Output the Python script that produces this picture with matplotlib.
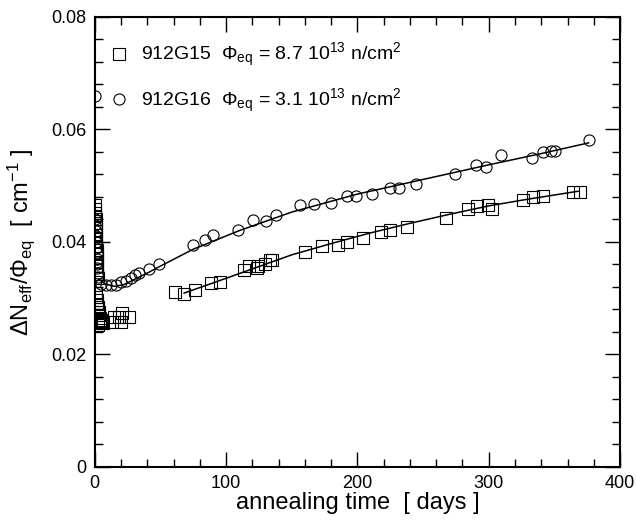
import numpy as np
import matplotlib
matplotlib.use('Agg')
import matplotlib.pyplot as plt
from matplotlib.ticker import MultipleLocator

plt.rcParams['font.family'] = ['Liberation Sans', 'DejaVu Sans']
plt.rcParams['mathtext.fontset'] = 'custom'
plt.rcParams['mathtext.rm'] = 'Liberation Sans'
plt.rcParams['mathtext.it'] = 'Liberation Sans:italic'

# === 912G15 (squares) ===
g15_t = [0.2, 0.3, 0.4, 0.5, 0.6, 0.7, 0.8, 0.9, 1.0, 1.1, 1.2, 1.3, 1.4, 1.5, 1.6,
         1.7, 1.8, 1.9, 2.0, 2.2,
         1.0, 1.3, 1.6, 2.0, 2.4, 2.8, 3.2, 3.6, 4.0, 4.5, 5.0, 5.5, 6.0, 2.8,
         5.8, 13.5, 14.7, 18.5, 19.8, 21.0, 26.0,
         61.0, 68.0, 76.7, 88.4, 95.2, 113.8, 117.6, 123.2, 124.4, 129.5, 133.3, 135.1,
         160.0, 172.7, 184.9, 191.8, 204.0, 217.9, 224.8, 237.5, 267.8, 284.0, 290.8,
         299.2, 302.2, 325.9, 333.9, 341.1, 364.0, 369.5]
g15_y = [0.0465, 0.0458, 0.0452, 0.0446, 0.0440, 0.0433, 0.0426, 0.0420, 0.0413, 0.0407,
         0.0400, 0.0393, 0.0386, 0.0380, 0.0372, 0.0365, 0.0358, 0.0350, 0.0343, 0.0336,
         0.0310, 0.0302, 0.0296, 0.0290, 0.0285, 0.0280, 0.0275, 0.0270, 0.0265, 0.0262,
         0.0258, 0.0256, 0.0255, 0.0252,
         0.0259, 0.0258, 0.0267, 0.0267, 0.0258, 0.0273, 0.0267,
         0.0311, 0.0307, 0.0314, 0.0327, 0.0328, 0.0350, 0.0357, 0.0354, 0.0358, 0.0361,
         0.0367, 0.0368, 0.0382, 0.0392, 0.0395, 0.0400, 0.0407, 0.0417, 0.0421, 0.0427,
         0.0443, 0.0459, 0.0463, 0.0465, 0.0459, 0.0474, 0.0479, 0.0481, 0.0488, 0.0488]

# === 912G16 (circles) ===
g16_t = [0.1, 0.2, 0.4, 0.6, 0.8, 1.0, 1.2, 1.4, 1.6, 1.8, 2.0, 2.3, 1.5, 2.6,
         4.6, 8.4, 12.2, 16.0, 19.8, 23.6, 27.4, 30.7, 33.8,
         41.4, 49.0, 74.9, 83.8, 90.1, 109.2, 120.6, 130.3, 137.9, 156.6, 167.0, 179.8,
         192.2, 198.7, 210.8, 224.8, 231.9, 244.8, 274.3, 290.3, 297.7, 309.1, 332.7,
         341.6, 347.4, 350.5, 376.6]
g16_y = [0.0660, 0.0440, 0.0430, 0.0420, 0.0410, 0.0400, 0.0390, 0.0380, 0.0370, 0.0360,
         0.0353, 0.0345, 0.0364, 0.0338,
         0.0326, 0.0323, 0.0323, 0.0324, 0.0328, 0.0330, 0.0336, 0.0342, 0.0345,
         0.0351, 0.0360, 0.0395, 0.0403, 0.0413, 0.0421, 0.0439, 0.0438, 0.0448, 0.0465,
         0.0467, 0.0470, 0.0481, 0.0481, 0.0486, 0.0496, 0.0496, 0.0503, 0.0520, 0.0537,
         0.0534, 0.0555, 0.0549, 0.0559, 0.0562, 0.0562, 0.0581]

# === fit curves ===
fit15_t = [68, 90, 120, 150, 180, 210, 240, 270, 300, 330, 368]
fit15_y = [0.0309, 0.0327, 0.0352, 0.0377, 0.0397, 0.0416, 0.0433, 0.0449, 0.0464, 0.0476, 0.0490]
fit16_t = [3, 8, 15, 22, 30, 42, 50, 75, 110, 150, 200, 250, 300, 340, 376]
fit16_y = [0.0334, 0.0325, 0.0321, 0.0324, 0.0333, 0.0347, 0.0357, 0.0387, 0.0420, 0.0453,
           0.0485, 0.0511, 0.0537, 0.0557, 0.0576]

x_ticks = [0, 100, 200, 300, 400]
y_ticks = [0, 0.02, 0.04, 0.06, 0.08]
y_ticklabels = ['0', '0.02', '0.04', '0.06', '0.08']
labels = [r'912G15  $\Phi_{\rm eq}$ = 8.7 10$^{13}$ n/cm$^2$',
          r'912G16  $\Phi_{\rm eq}$ = 3.1 10$^{13}$ n/cm$^2$']

fig = plt.figure(figsize=(6.36, 5.27), dpi=100)
ax = fig.add_axes([0.149, 0.114, 0.826, 0.854])

ax.plot(fit15_t, fit15_y, color='black', lw=1.1, zorder=3)
ax.plot(fit16_t, fit16_y, color='black', lw=1.1, zorder=3)
h1, = ax.plot(g15_t, g15_y, 's', ms=8, mfc='none', mec='black', mew=0.8, label=labels[0])
h2, = ax.plot(g16_t, g16_y, 'o', ms=8, mfc='none', mec='black', mew=0.8, label=labels[1])

ax.set_xlim(0, 400)
ax.set_ylim(0, 0.08)
ax.set_xticks(x_ticks)
ax.set_xticklabels([str(t) for t in x_ticks])
ax.xaxis.set_minor_locator(MultipleLocator(20))
ax.set_yticks(y_ticks)
ax.set_yticklabels(y_ticklabels)
ax.yaxis.set_minor_locator(MultipleLocator(0.004))
ax.tick_params(which='both', direction='in', top=True, right=True, labelsize=13, width=1)
ax.tick_params(which='major', length=11, pad=6)
ax.tick_params(which='minor', length=6)
for s in ax.spines.values():
    s.set_linewidth(1.5)

ax.set_xlabel('annealing time  [ days ]', fontsize=17, labelpad=0)
ax.set_ylabel(r'$\Delta$N$_{\rm eff}$/$\Phi_{\rm eq}$  [ cm$^{-1}$ ]', fontsize=17, labelpad=10)

ax.legend(handles=[h1, h2], loc='upper left', bbox_to_anchor=(-0.005, 0.985), frameon=False,
          fontsize=14, handlelength=1.0, handletextpad=0.6, labelspacing=0.9, markerscale=1.0)

fig.savefig('out.png', dpi=100)
